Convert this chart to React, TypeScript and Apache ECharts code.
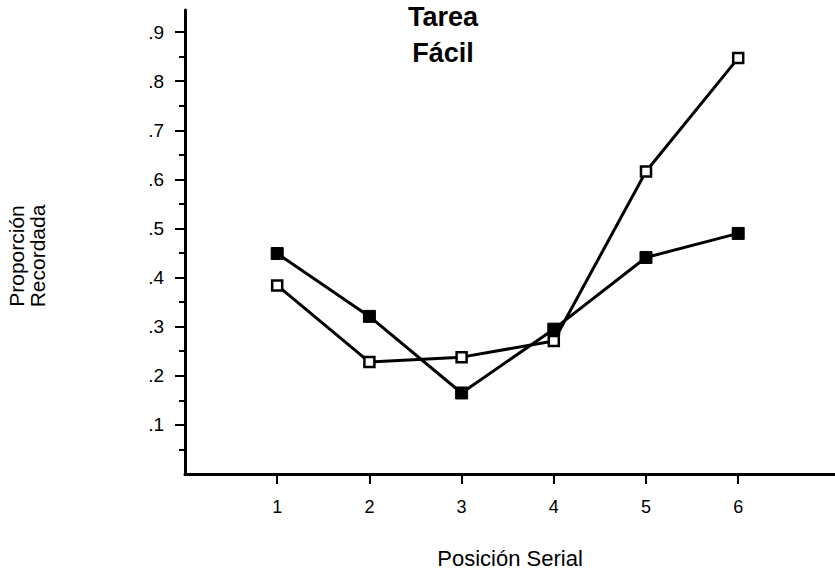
import React, { useEffect, useRef } from "react";
import * as echarts from "echarts";

const positions = [1, 2, 3, 4, 5, 6];
const filledValues = [0.449, 0.321, 0.165, 0.295, 0.441, 0.49];
const openValues = [0.384, 0.228, 0.238, 0.271, 0.616, 0.847];
const yMajorTicks = [0.1, 0.2, 0.3, 0.4, 0.5, 0.6, 0.7, 0.8, 0.9];
const yMinorTicks = [0.05, 0.15, 0.25, 0.35, 0.45, 0.55, 0.65, 0.75, 0.85];
const xTicks = [1, 2, 3, 4, 5, 6];

const FONT = "Liberation Sans, Arial, Helvetica, sans-serif";

export default function App() {
  const ref = useRef<HTMLDivElement>(null);
  useEffect(() => {
    if (!ref.current) return;
    const chart = echarts.init(ref.current, null, { renderer: "svg" });
    const fmt = (v: number) => "." + Math.round(v * 10);
    chart.setOption({
      animation: false,
      backgroundColor: "#fff",
      grid: { left: 185, right: 0, top: 10, bottom: 98 },
      graphic: [
        {
          type: "text",
          x: 443,
          y: 17,
          style: {
            text: "Tarea",
            fontFamily: FONT,
            fontWeight: "bold",
            fontSize: 27,
            fill: "#000",
            align: "center",
            verticalAlign: "middle",
          },
        },
        {
          type: "text",
          x: 443,
          y: 53,
          style: {
            text: "Fácil",
            fontFamily: FONT,
            fontWeight: "bold",
            fontSize: 27,
            fill: "#000",
            align: "center",
            verticalAlign: "middle",
          },
        },
        {
          type: "text",
          x: 27,
          y: 256,
          rotation: Math.PI / 2,
          style: {
            text: "Proporción\nRecordada",
            fontFamily: FONT,
            fontSize: 21,
            lineHeight: 21,
            fill: "#000",
            align: "center",
            verticalAlign: "middle",
          },
        },
      ],
      xAxis: {
        type: "value",
        min: 0,
        max: 7.05,
        name: "Posición Serial",
        nameLocation: "middle",
        nameGap: 73,
        nameTextStyle: { fontFamily: FONT, fontSize: 22, color: "#000" },
        axisLine: { show: true, lineStyle: { color: "#000", width: 3 } },
        axisTick: { show: true, customValues: xTicks, length: 10, lineStyle: { color: "#000", width: 2 } },
        axisLabel: { customValues: xTicks, fontFamily: FONT, fontSize: 18, color: "#000", margin: 24 },
        splitLine: { show: false },
      },
      yAxis: [
        {
          type: "value",
          min: 0,
          max: 0.945,
          position: "left",
          axisLine: { show: true, onZero: false, lineStyle: { color: "#000", width: 3 } },
          axisTick: { show: true, customValues: yMajorTicks, length: 10, lineStyle: { color: "#000", width: 2 } },
          axisLabel: { customValues: yMajorTicks, formatter: fmt, fontFamily: FONT, fontSize: 19, color: "#000", margin: 21 },
          splitLine: { show: false },
        },
        {
          type: "value",
          min: 0,
          max: 0.945,
          position: "left",
          axisLine: { show: false },
          axisTick: { show: true, customValues: yMinorTicks, length: 6, lineStyle: { color: "#000", width: 2 } },
          axisLabel: { show: false },
          splitLine: { show: false },
        },
      ],
      series: [
        {
          type: "line",
          yAxisIndex: 0,
          data: positions.map((p, i) => [p, filledValues[i]]),
          symbol: "rect",
          symbolSize: 12,
          lineStyle: { color: "#000", width: 3 },
          itemStyle: { color: "#000", borderColor: "#000", borderWidth: 1 },
          z: 3,
        },
        {
          type: "line",
          yAxisIndex: 0,
          data: positions.map((p, i) => [p, openValues[i]]),
          symbol: "rect",
          symbolSize: 10,
          lineStyle: { color: "#000", width: 3 },
          itemStyle: { color: "#fff", borderColor: "#000", borderWidth: 2.5 },
          z: 4,
        },
      ],
    });
    return () => chart.dispose();
  }, []);
  return <div ref={ref} style={{ width: 835, height: 574, position: "absolute", left: 0, top: 0 }} />;
}
